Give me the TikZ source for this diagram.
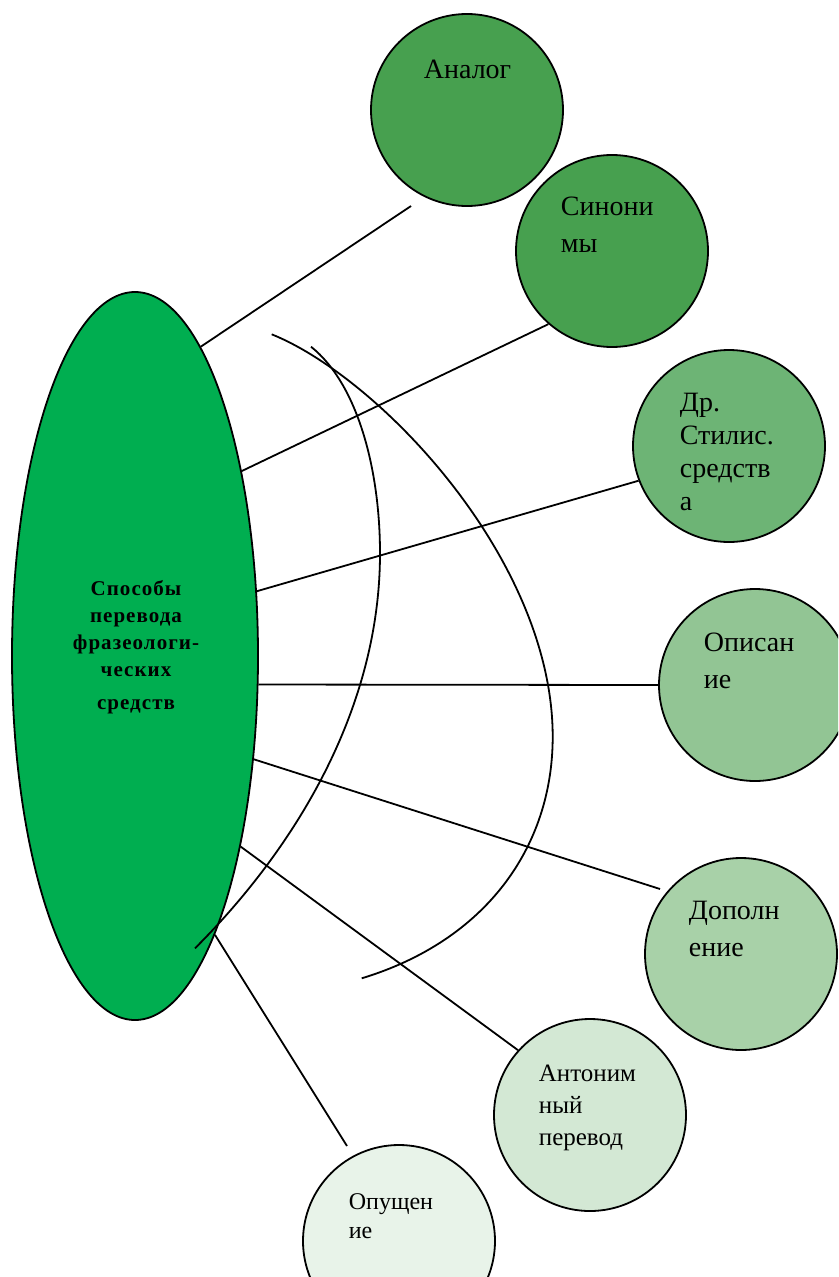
\documentclass[tikz,border=0pt]{standalone}
\usepackage{fontspec}
\setmainfont{Liberation Serif}
\newfontfamily\elltext{Liberation Serif}[LetterSpace=5]
\usetikzlibrary{shapes.geometric}

\definecolor{ellgreen}{HTML}{00AE50}
\definecolor{greenA}{HTML}{47A04F}
\definecolor{greenB}{HTML}{6DB475}
\definecolor{greenC}{HTML}{92C594}
\definecolor{greenD}{HTML}{A8D1A8}
\definecolor{greenE}{HTML}{D3E8D4}
\definecolor{greenF}{HTML}{E8F3E9}

\tikzset{
  blob/.style={circle, draw, minimum size=192pt, inner sep=0pt},
  lbl/.style={anchor=north west, inner sep=0pt, align=left,
              font=\fontsize{28}{37}\selectfont},
}

\begin{document}
\begin{tikzpicture}[x=1pt, y=-1pt, line width=1.8pt]
\useasboundingbox (0,0) rectangle (838,1277);
\clip (0,0) rectangle (838,1277);
\node[ellipse, draw, fill=ellgreen, minimum width=246pt, minimum height=728pt, inner sep=0pt] (ell) at (135,656) {};
\foreach \name/\x/\y/\col in {
            analog/467/110/greenA,
            sinon/612/251/greenA,
            drst/729/446/greenB,
            opis/755/685/greenC,
            dopol/741/954/greenD,
            anton/590/1115/greenE,
            opus/399/1241/greenF}
            \node[blob, fill=\col] (\name) at (\x,\y) {};
\node[anchor=north, inner sep=0pt, align=center,
      font=\elltext\bfseries\fontsize{21}{27}\selectfont]
      (ell-t) at (136,580) {Способы\\перевода\\фразеологи-\\ческих\\[6pt]средств};
\node[lbl] (analog-t) at (423,59) {Аналог};
\node[lbl] (sinon-t) at (560,196) {Синони\\мы};
\node[lbl, font=\fontsize{28}{33}\selectfont] (drst-t) at (679,392) {Др.\\Стилис.\\средств\\а};
\node[lbl] (opis-t) at (703,632) {Описан\\ие};
\node[lbl] (dopol-t) at (688,900) {Дополн\\ение};
\node[lbl, font=\fontsize{25}{32}\selectfont] (anton-t) at (538,1064) {Антоним\\ный\\перевод};
\node[lbl, font=\fontsize{24}{29}\selectfont] (opus-t) at (348,1193) {Опущен\\ие};
\coordinate (analog-end) at (411,206);
\coordinate (dopol-end) at (660,889);
\coordinate (opus-end) at (347,1146);
\foreach \from/\to in {
            ell.78.1/analog-end,
            ell.60.2/sinon.229.5,
            ell.28.9/drst.201.6,
            ell.-13.75/opis.west,
            ell.-41.2/dopol-end,
            ell.-61.3/anton.138.5,
            ell.-74.6/opus-end}
            \draw (\from) -- (\to);
\draw (271.7,334.3) .. controls (380,378) and (552.7,560) .. (552.7,736.7)
                    .. controls (552.7,846.7) and (486.1,940.6) .. (361.7,978.3);
\draw (311,346.7) .. controls (357.8,383.9) and (380,470) .. (380,553.3)
                  .. controls (380,703.3) and (301,842.2) .. (195,948.3);
\end{tikzpicture}
\end{document}
